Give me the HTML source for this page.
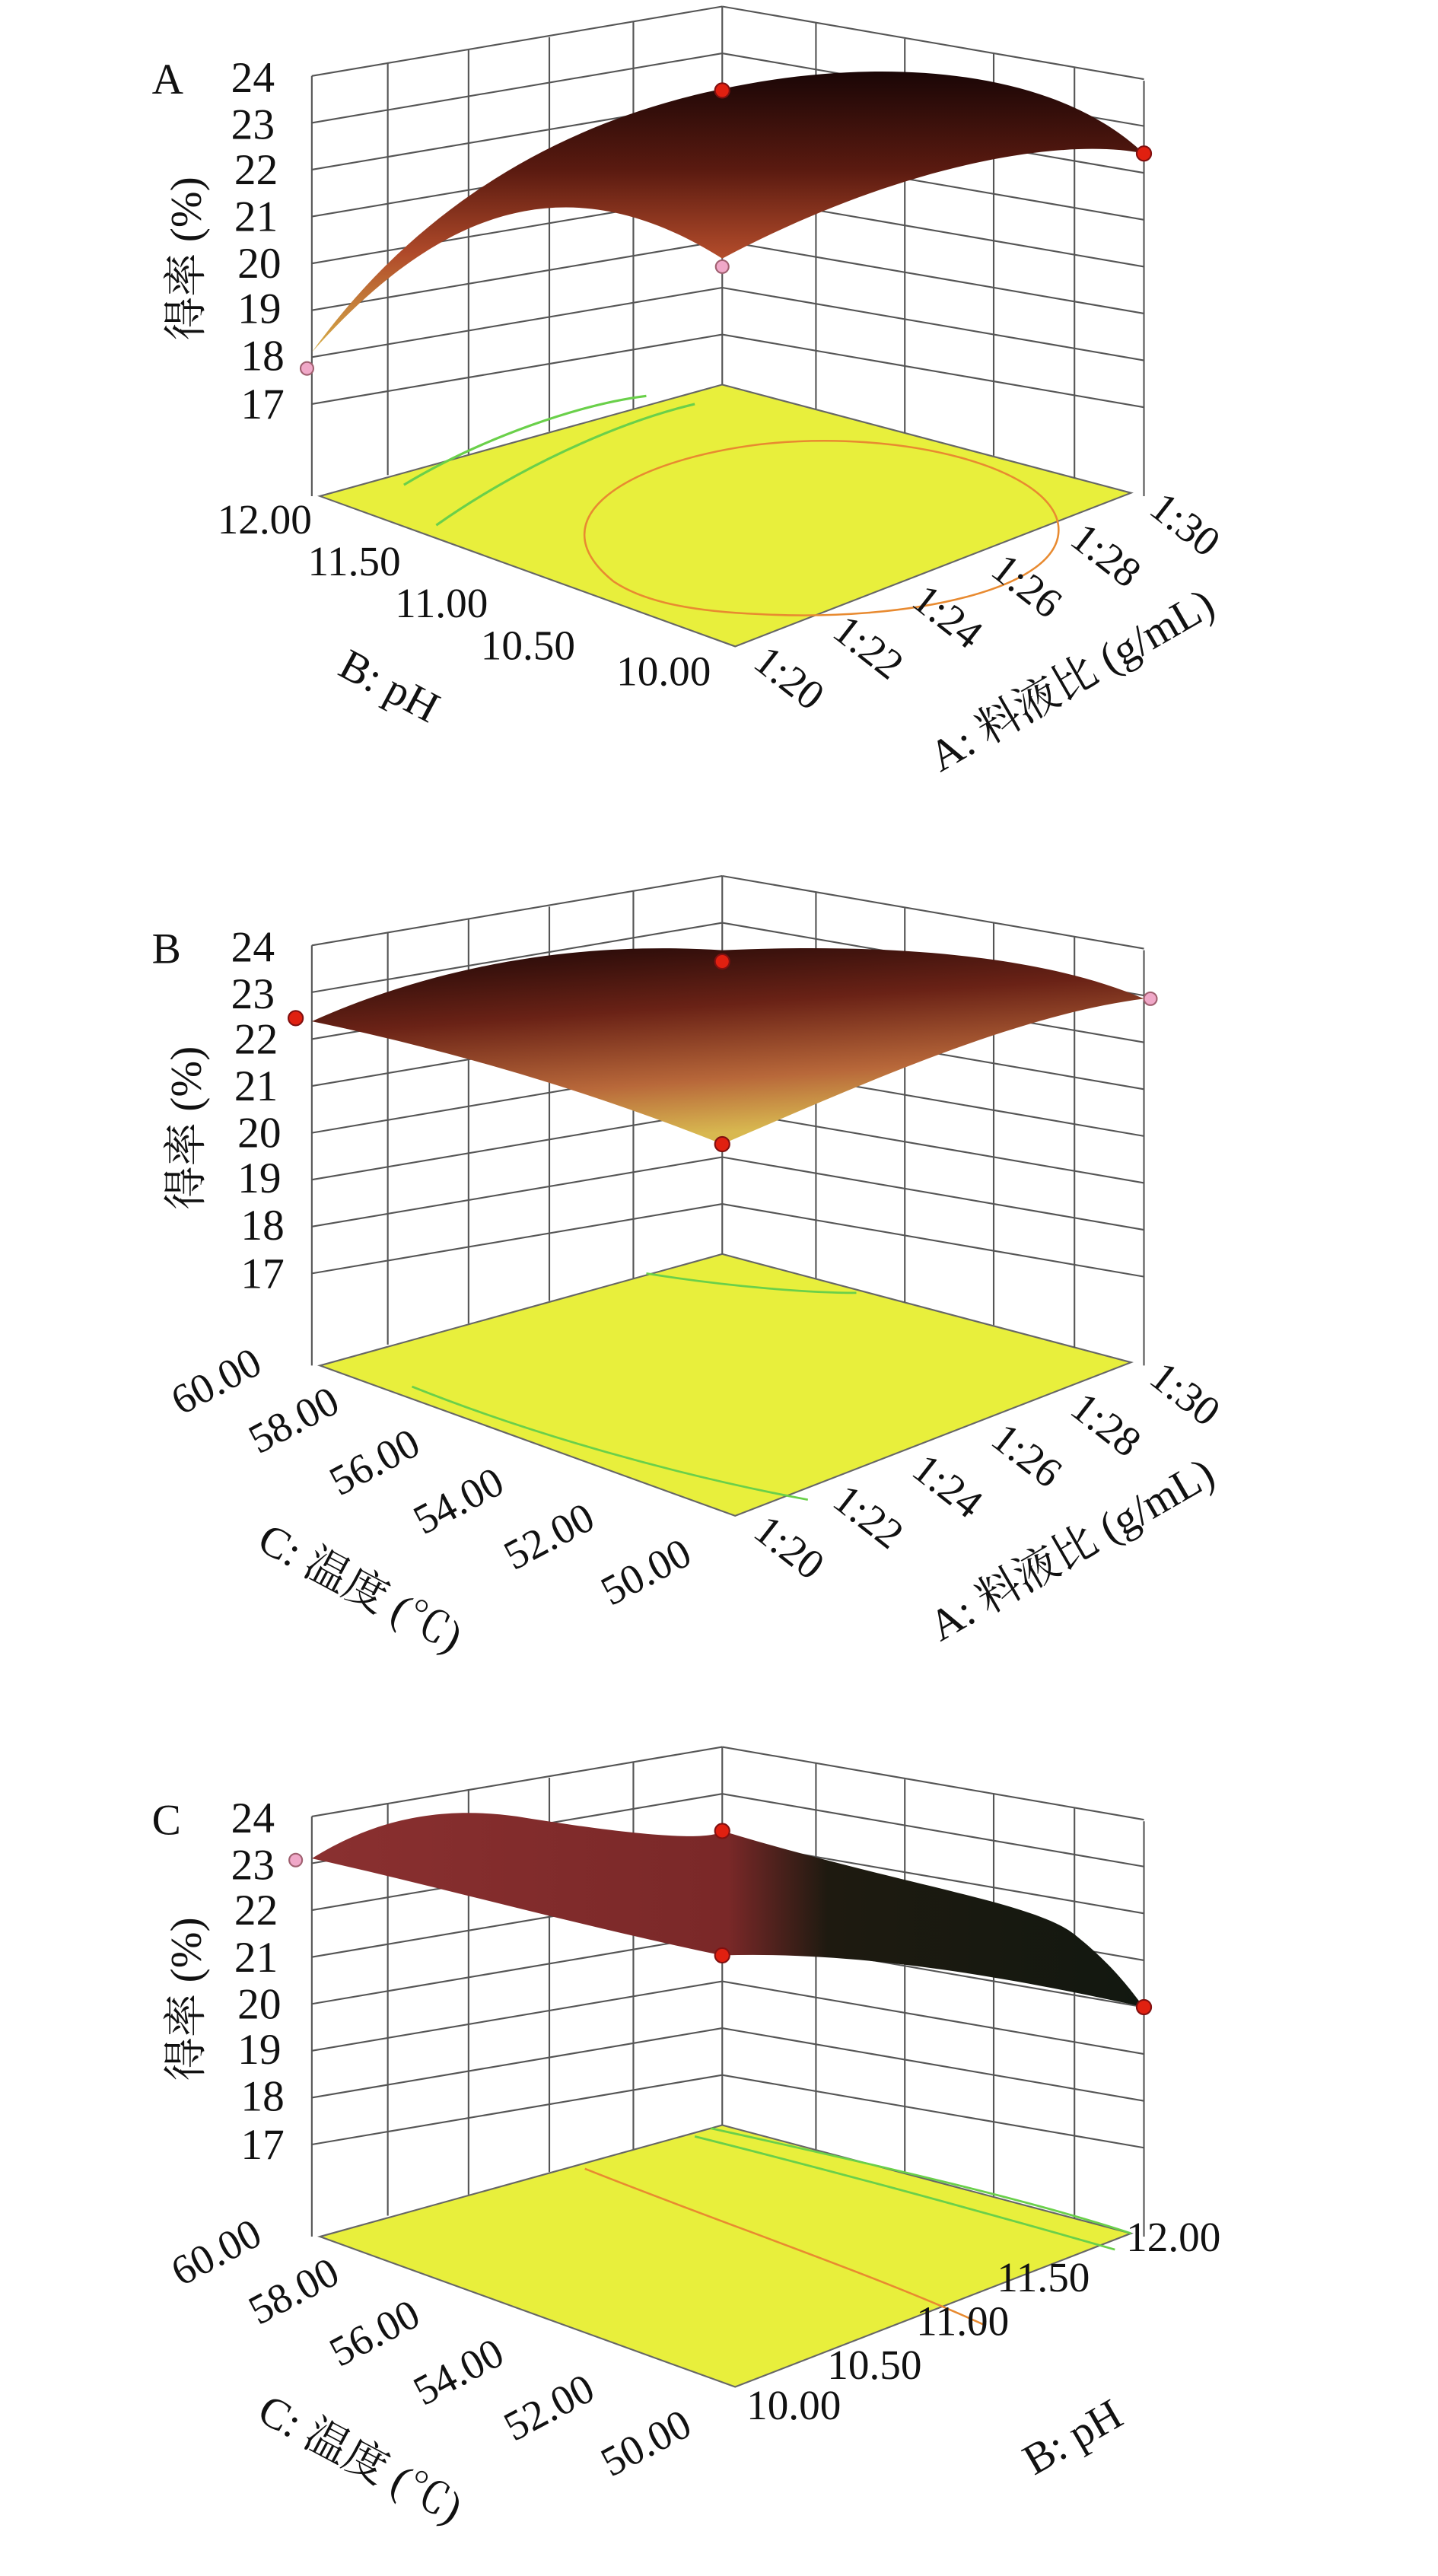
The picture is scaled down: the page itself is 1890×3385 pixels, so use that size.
<!DOCTYPE html>
<html><head><meta charset="utf-8"><style>
html,body{margin:0;padding:0;background:#fff}
svg{display:block}
text{font-family:"Liberation Serif","Noto Serif CJK SC",serif;fill:#111}
</style></head><body>
<svg width="1890" height="3385" viewBox="0 0 890 1594" preserveAspectRatio="none" xmlns="http://www.w3.org/2000/svg">
<defs>
<g id="grid" stroke="#555" stroke-width="1" fill="none">
<polygon points="198,307 447,238 700,305 455,400" fill="#e8ef3c" stroke="#666"/>
<line x1="193" y1="47" x2="193" y2="307"/>
<line x1="447" y1="4" x2="447" y2="238"/>
<line x1="708" y1="50" x2="708" y2="307"/>
<path d="M193,47 L447,4 M193,76 L447,33 M193,105 L447,62 M193,134 L447,91 M193,163 L447,120 M193,192 L447,149 M193,221 L447,178 M193,250 L447,207"/>
<path d="M447,4 L708,49 M447,33 L708,78 M447,62 L708,107 M447,91 L708,136 M447,120 L708,165 M447,149 L708,194 M447,178 L708,223 M447,207 L708,252"/>
<path d="M240,39 L240,294 M290,31 L290,281 M340,23 L340,267 M392,13 L392,253"/>
<path d="M505,14 L505,253 M560,24 L560,268 M615,33 L615,282 M665,42 L665,296"/>
</g>
<linearGradient id="gA" x1="0" y1="0" x2="0" y2="1">
<stop offset="0" stop-color="#1a0606"/><stop offset="0.35" stop-color="#5a1a10"/><stop offset="0.65" stop-color="#b04a2a"/><stop offset="1" stop-color="#d8b04a"/></linearGradient>
<linearGradient id="gB" x1="0" y1="0" x2="0.3" y2="1">
<stop offset="0" stop-color="#1a0606"/><stop offset="0.4" stop-color="#6a2216"/><stop offset="0.75" stop-color="#b8683a"/><stop offset="1" stop-color="#d8b850"/></linearGradient>
<linearGradient id="gC" x1="0" y1="0" x2="1" y2="0">
<stop offset="0" stop-color="#8a3030"/><stop offset="0.5" stop-color="#7a2828"/><stop offset="0.62" stop-color="#1e1a10"/><stop offset="1" stop-color="#121810"/></linearGradient>
</defs>

<!-- Panel A -->
<use href="#grid"/>
<path d="M380,360 C330,320 390,285 470,275 C560,265 650,290 655,325 C660,365 560,385 470,380 C420,378 395,370 380,360Z" fill="none" stroke="#e88a30" stroke-width="1.2"/>
<path d="M250,300 C300,270 360,250 400,245 M270,325 C320,290 380,262 430,250" fill="none" stroke="#6ad04a" stroke-width="1.5"/>
<path d="M193,218 C260,125 350,75 447,55 C540,35 650,40 708,95 C660,85 560,100 447,160 C360,105 280,120 193,218Z" fill="url(#gA)"/>
<circle cx="190" cy="228" r="4" fill="#f0a8c8" stroke="#a06070"/>
<circle cx="447" cy="165" r="4" fill="#f0a8c8" stroke="#a06070"/>
<circle cx="447" cy="56" r="4.5" fill="#e02010" stroke="#801010"/>
<circle cx="708" cy="95" r="4.5" fill="#e02010" stroke="#801010"/>
<g font-size="27" text-anchor="end">
<text x="170" y="57">24</text><text x="170" y="86">23</text><text x="172" y="114">22</text><text x="172" y="143">21</text><text x="174" y="172">20</text><text x="174" y="200">19</text><text x="176" y="229">18</text><text x="176" y="259">17</text>
</g>
<text x="94" y="58" font-size="27">A</text>
<text transform="translate(124,160) rotate(-90)" font-size="27" text-anchor="middle">得率 (%)</text>
<g font-size="26" text-anchor="end">
<text x="193" y="330">12.00</text><text x="248" y="356">11.50</text><text x="302" y="382">11.00</text><text x="356" y="408">10.50</text><text x="440" y="424">10.00</text>
</g>
<text transform="translate(208,417) rotate(28)" font-size="27">B: pH</text>
<g font-size="26">
<text transform="translate(465,412) rotate(38)">1:20</text>
<text transform="translate(514,393) rotate(38)">1:22</text>
<text transform="translate(563,374) rotate(38)">1:24</text>
<text transform="translate(612,355) rotate(38)">1:26</text>
<text transform="translate(661,336) rotate(38)">1:28</text>
<text transform="translate(710,317) rotate(38)">1:30</text>
</g>
<text transform="translate(582,478) rotate(-30)" font-size="27">A: 料液比 (g/mL)</text>

<!-- Panel B -->
<g transform="translate(0,538)">
<use href="#grid"/>
<path d="M255,320 C330,350 420,375 500,390 M400,250 C450,258 500,262 530,262" fill="none" stroke="#6ad04a" stroke-width="1.3"/>
<path d="M193,94 C280,55 370,45 447,50 C560,45 650,55 708,80 C630,90 540,130 447,170 C360,135 270,110 193,94Z" fill="url(#gB)"/>
<circle cx="183" cy="92" r="4.5" fill="#e02010" stroke="#801010"/>
<circle cx="447" cy="57" r="4.5" fill="#e02010" stroke="#801010"/>
<circle cx="447" cy="170" r="4.5" fill="#e02010" stroke="#801010"/>
<circle cx="712" cy="80" r="4" fill="#f0a8c8" stroke="#a06070"/>
<g font-size="27" text-anchor="end">
<text x="170" y="57">24</text><text x="170" y="86">23</text><text x="172" y="114">22</text><text x="172" y="143">21</text><text x="174" y="172">20</text><text x="174" y="200">19</text><text x="176" y="229">18</text><text x="176" y="259">17</text>
</g>
<text x="94" y="58" font-size="27">B</text>
<text transform="translate(124,160) rotate(-90)" font-size="27" text-anchor="middle">得率 (%)</text>
<g font-size="26">
<text transform="translate(112,338) rotate(-28)">60.00</text>
<text transform="translate(160,362) rotate(-28)">58.00</text>
<text transform="translate(210,388) rotate(-28)">56.00</text>
<text transform="translate(262,412) rotate(-28)">54.00</text>
<text transform="translate(318,434) rotate(-28)">52.00</text>
<text transform="translate(378,456) rotate(-28)">50.00</text>
</g>
<text transform="translate(158,420) rotate(28)" font-size="27">C: 温度 (℃)</text>
<g font-size="26">
<text transform="translate(465,412) rotate(38)">1:20</text>
<text transform="translate(514,393) rotate(38)">1:22</text>
<text transform="translate(563,374) rotate(38)">1:24</text>
<text transform="translate(612,355) rotate(38)">1:26</text>
<text transform="translate(661,336) rotate(38)">1:28</text>
<text transform="translate(710,317) rotate(38)">1:30</text>
</g>
<text transform="translate(582,478) rotate(-30)" font-size="27">A: 料液比 (g/mL)</text>
</g>

<!-- Panel C -->
<g transform="translate(0,1077)">
<use href="#grid"/>
<path d="M362,265 C450,300 540,330 610,362" fill="none" stroke="#e88a30" stroke-width="1.2"/>
<path d="M430,245 C530,270 620,295 690,315 M440,240 C540,262 640,285 700,305" fill="none" stroke="#6ad04a" stroke-width="1.3"/>
<path d="M193,73 C230,50 270,40 320,47 C400,60 440,62 447,56 C560,90 640,100 665,120 C690,140 700,155 708,165 C640,150 540,130 447,133 C360,115 270,90 193,73Z" fill="url(#gC)"/>
<circle cx="183" cy="74" r="4" fill="#f0a8c8" stroke="#a06070"/>
<circle cx="447" cy="56" r="4.5" fill="#e02010" stroke="#801010"/>
<circle cx="447" cy="133" r="4.5" fill="#e02010" stroke="#801010"/>
<circle cx="708" cy="165" r="4.5" fill="#e02010" stroke="#801010"/>
<g font-size="27" text-anchor="end">
<text x="170" y="57">24</text><text x="170" y="86">23</text><text x="172" y="114">22</text><text x="172" y="143">21</text><text x="174" y="172">20</text><text x="174" y="200">19</text><text x="176" y="229">18</text><text x="176" y="259">17</text>
</g>
<text x="94" y="58" font-size="27">C</text>
<text transform="translate(124,160) rotate(-90)" font-size="27" text-anchor="middle">得率 (%)</text>
<g font-size="26">
<text transform="translate(112,338) rotate(-28)">60.00</text>
<text transform="translate(160,362) rotate(-28)">58.00</text>
<text transform="translate(210,388) rotate(-28)">56.00</text>
<text transform="translate(262,412) rotate(-28)">54.00</text>
<text transform="translate(318,434) rotate(-28)">52.00</text>
<text transform="translate(378,456) rotate(-28)">50.00</text>
</g>
<text transform="translate(158,420) rotate(28)" font-size="27">C: 温度 (℃)</text>
<g font-size="26">
<text x="462" y="420">10.00</text>
<text x="512" y="395">10.50</text>
<text x="567" y="368">11.00</text>
<text x="617" y="341">11.50</text>
<text x="697" y="316">12.00</text>
</g>
<text transform="translate(640,455) rotate(-30)" font-size="27">B: pH</text>
</g>
</svg>
</body></html>
